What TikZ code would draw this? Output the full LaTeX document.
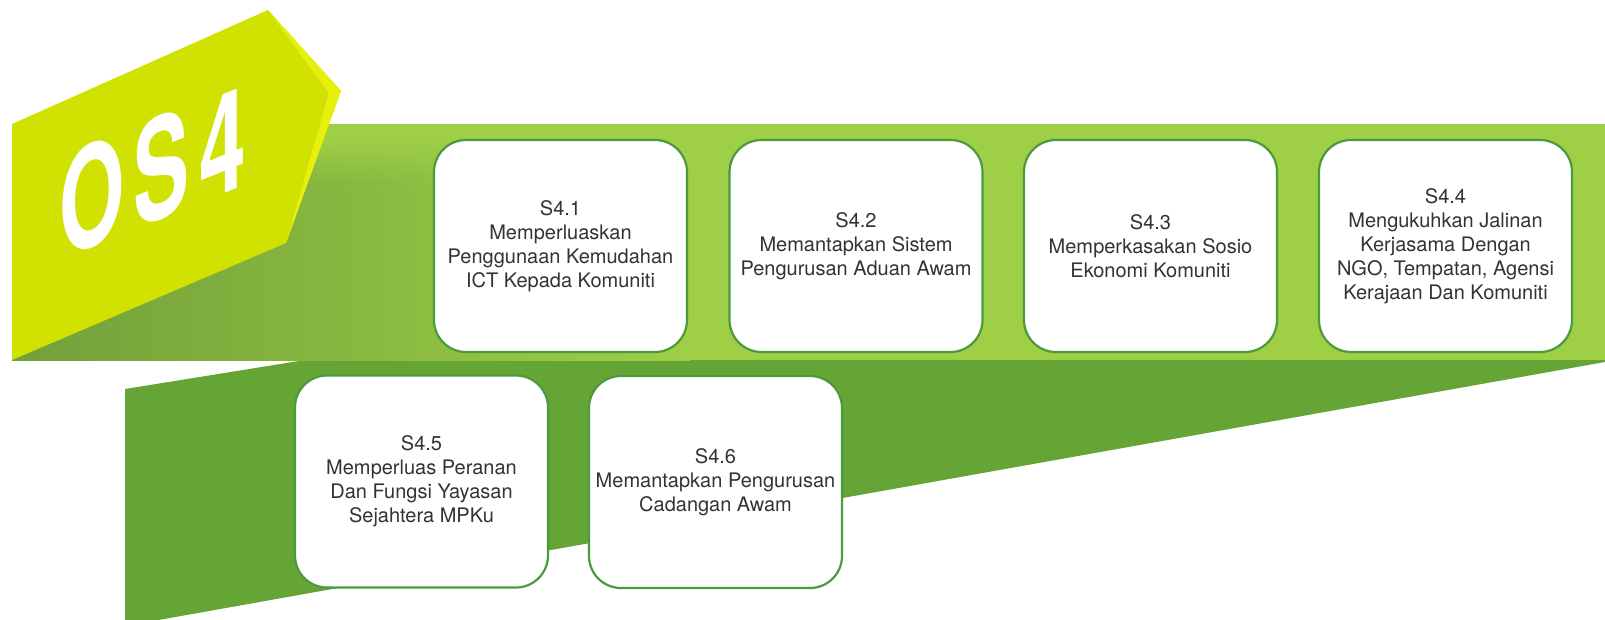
\documentclass[tikz,border=0pt]{standalone}
\usepackage{fontspec}
\setmainfont{TeX Gyre Heros}
\definecolor{BadgeLime}{HTML}{D1E203}
\definecolor{BadgeGlint}{HTML}{E6F00A}
\definecolor{BandLight}{HTML}{9ECF46}
\definecolor{BandShade}{HTML}{72A03A}
\definecolor{BandDeep}{HTML}{65A535}
\definecolor{BoxRim}{HTML}{4B9A3E}
\definecolor{BoxInk}{HTML}{333333}

\begin{document}
\begin{tikzpicture}[
  x=1pt,y=-1pt,
  line join=round,
  strategy/.style={draw=BoxRim,line width=2.2pt,fill=white,
    rounded corners=32pt,minimum width=253pt,minimum height=212pt,
    align=center,text=BoxInk,font=\fontsize{20}{24}\selectfont}
]
  \useasboundingbox (0,0) rectangle (1605,620);

  \fill[BandDeep] (125,389)--(330,356)--(1605,356)--(1605,362)--(125,626)--cycle;

  \fill[BandLight] (12,124) rectangle (1605,360);
  \shade[left color=BandShade,right color=BandLight] (12,184.6) rectangle (690,360);
  \foreach \k in {0,...,8}{
    \pgfmathsetmacro{\mixpct}{100*(\k+0.5)/9}
    \shade[left color=BandShade!\mixpct!BandLight,right color=BandLight]
      (12,140+5*\k) rectangle (690,145.6+5*\k);
  }

  \fill[BadgeLime] (12,124)--(268,10)--(341,91)--(286,243)--(12,360)--cycle;
  \fill[BadgeGlint] (268,10)--(341,91)--(286,243)--(329,93)--cycle;
  \node[text=white,yslant=0.4,xscale=0.6,
    font=\fontsize{140}{140}\selectfont\bfseries] (badgetitle) at (153,171)
    {O\kern14pt S\kern16pt 4};

  \node[strategy] (sfourone) at (560.5,246)
    {S4.1\\Memperluaskan\\Penggunaan Kemudahan\\ICT Kepada Komuniti};
  \node[strategy] (sfourtwo) at (856,246)
    {S4.2\\Memantapkan Sistem\\Pengurusan Aduan Awam};
  \node[strategy] (sfourthree) at (1150.5,246)
    {S4.3\\Memperkasakan Sosio\\Ekonomi Komuniti};
  \node[strategy] (sfourfour) at (1445.5,246)
    {S4.4\\Mengukuhkan Jalinan\\Kerjasama Dengan\\NGO, Tempatan, Agensi\\Kerajaan Dan Komuniti};
  \node[strategy] (sfourfive) at (421.5,481.5)
    {S4.5\\Memperluas Peranan\\Dan Fungsi Yayasan\\Sejahtera MPKu};
  \node[strategy] (sfoursix) at (715.5,482)
    {S4.6\\Memantapkan Pengurusan\\Cadangan Awam};
\end{tikzpicture}
\end{document}
